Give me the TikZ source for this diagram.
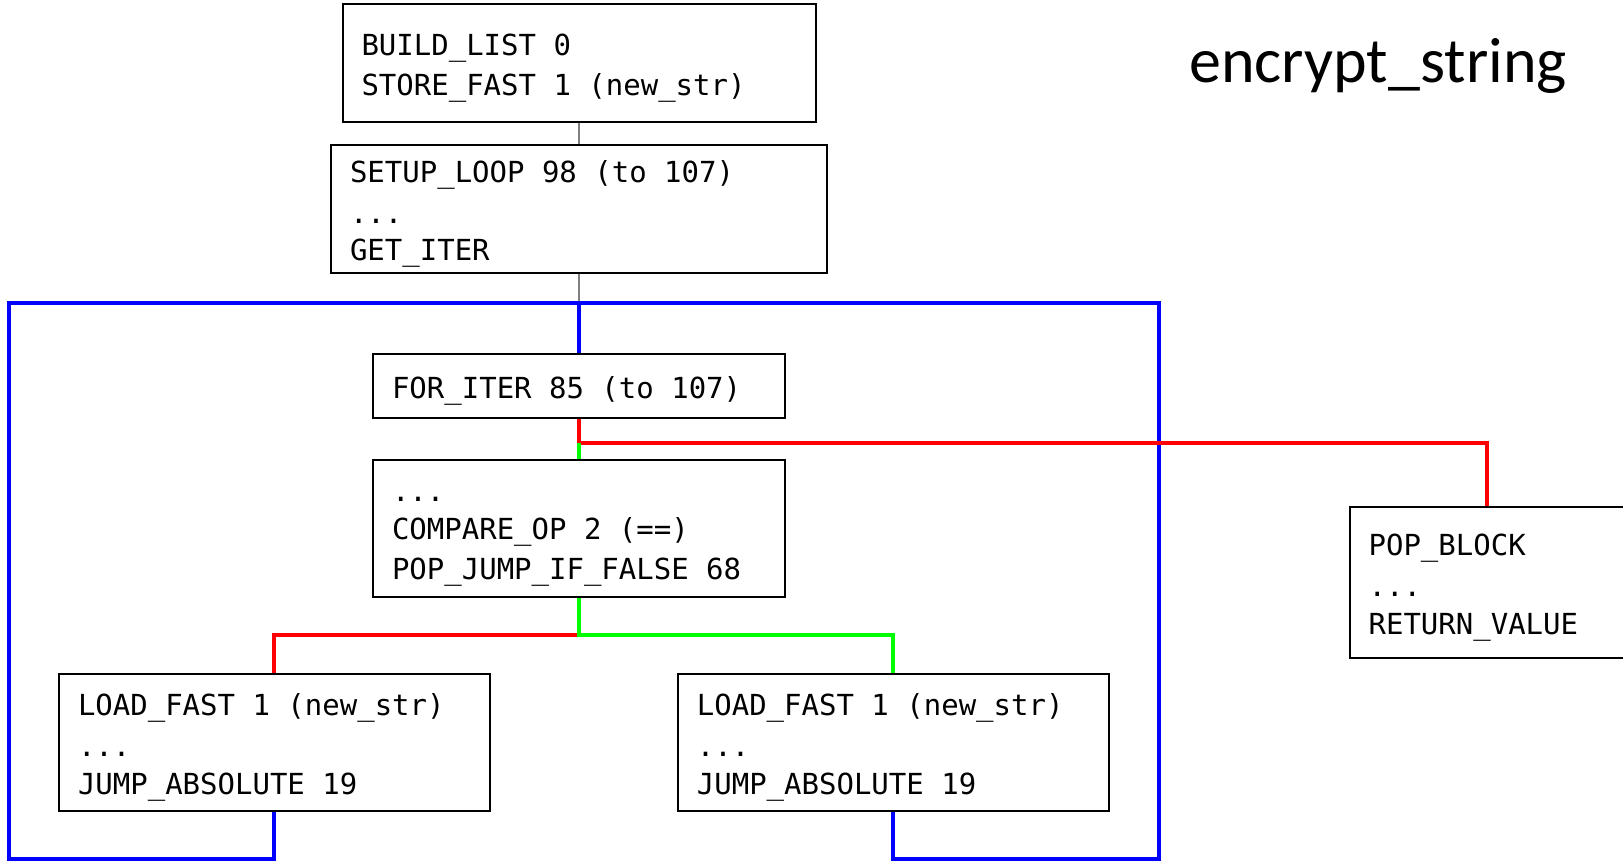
\documentclass[tikz,border=0pt]{standalone}
\usepackage{fontspec}
\newfontfamily\codefont{DejaVu Sans Mono}
\newfontfamily\titlefont{Carlito}
% one code line: fixed height and depth so every block centres alike
\newcommand\cl{\rule[-2.85pt]{0pt}{18.75pt}}
\begin{document}
\begin{tikzpicture}[x=0.5pt,y=-0.5pt,
  blk/.style={draw=black,line width=1pt,fill=white,rectangle,
    inner xsep=9.5pt,inner ysep=0pt,align=flush left,
    font=\codefont\fontsize{14.5}{18.75}\selectfont},
  plain/.style={draw=black!50,line width=1pt},
  loopedge/.style={draw={rgb,255:red,0;green,0;blue,255},line width=2pt},
  falseedge/.style={draw={rgb,255:red,255;green,0;blue,0},line width=1.9pt},
  trueedge/.style={draw={rgb,255:red,0;green,255;blue,0},line width=1.9pt}]
\useasboundingbox (0,0) rectangle (1623,861);
\clip (0,0) rectangle (1623,861);

% basic blocks
\node[blk,text width=217.5pt,minimum height=59pt] (b1) at (579,63)
  {\cl BUILD\_LIST 0\\\cl STORE\_FAST 1 (new\_str)};
\node[blk,text width=229pt,minimum height=64pt] (b2) at (579,209)
  {\cl SETUP\_LOOP 98 (to 107)\\\cl ...\\\cl GET\_ITER};
\node[blk,text width=187pt,minimum height=32pt] (b3) at (579,386)
  {\cl FOR\_ITER 85 (to 107)};
\node[blk,text width=187pt,minimum height=68.75pt] (b4) at (579,528.25)
  {\cl ...\\\cl COMPARE\_OP 2 (==)\\\cl POP\_JUMP\_IF\_FALSE 68};
\node[blk,text width=196.3pt,minimum height=68.5pt] (b5) at (274.3,742.5)
  {\cl LOAD\_FAST 1 (new\_str)\\\cl ...\\\cl JUMP\_ABSOLUTE 19};
\node[blk,text width=196.3pt,minimum height=68.5pt] (b6) at (893.2,742.5)
  {\cl LOAD\_FAST 1 (new\_str)\\\cl ...\\\cl JUMP\_ABSOLUTE 19};
\node[blk,text width=118.4pt,minimum height=75.5pt] (b7) at (1487,582.5)
  {\cl POP\_BLOCK\\\cl ...\\\cl RETURN\_VALUE};

% title
\node[anchor=base west,inner sep=0pt,font=\titlefont\fontsize{32}{38}\selectfont]
  (title) at (1189,82.7) {encrypt\_string};

% bend points
\coordinate (join) at (579,303.3);
\coordinate (loopL) at (9.3,858.5);
\coordinate (loopR) at (1159.3,858.5);
\coordinate (split1) at (579,443.3);
\coordinate (split2) at (579,635);

% straight-line flow
\draw[plain] (b1.south) -- (b2.north);
\draw[plain] (b2.south) -- (join);

% back edges of the loop
\draw[loopedge] (b5.south) |- (loopL) |- (join);
\draw[loopedge] (b6.south) |- (loopR) |- (join);
\draw[loopedge] (join) -- (b3.north);

% branches
\draw[falseedge] (b3.south) -- (split1) -| (b7.north);
\draw[trueedge] (split1) -- (b4.north);
\draw[falseedge] (split2) -| (b5.north);
\draw[trueedge] (b4.south) -- (split2) -| (b6.north);
\end{tikzpicture}
\end{document}
